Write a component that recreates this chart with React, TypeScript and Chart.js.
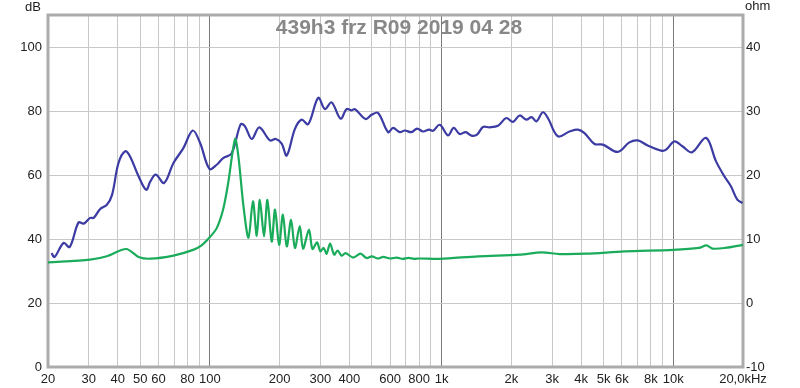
import React, { useEffect, useRef } from 'react';
import { Chart, registerables } from 'chart.js';

Chart.register(...registerables);

// SPL curve (left axis, dB)
const splFreq = [20.7, 21.35, 23.35, 24.8, 27.1, 28.5, 30.4, 31.5, 33.6, 35.9, 37.8, 40.3, 43.1, 45.2, 49.2, 53.1, 55.3, 58.4, 63.4, 69.6, 76.8, 84.3, 90.7, 99.5, 107, 114, 124, 135.8, 141.7, 151.5, 163.4, 181.6, 192.6, 204, 214.5, 232.8, 248.7, 265.7, 293.4, 313.6, 335, 366.5, 389, 408, 422.5, 469.6, 498.7, 532, 587.7, 617.6, 660, 693.8, 741, 783.8, 831.8, 882.7, 918, 982, 1066, 1128, 1197, 1271, 1345, 1422, 1509, 1612, 1752, 1902, 2033, 2172, 2321, 2446, 2564, 2737, 2876, 3176, 3566, 3875, 4139, 4571, 4966, 5762, 6468, 7025, 7760, 8864, 9312, 10115, 10985, 12060, 13850, 15300, 16610, 17760, 18900, 19900];
const splDb = [35.6, 34.4, 38.75, 37.5, 45.2, 44.8, 46.6, 46.6, 49.4, 50.7, 53.8, 63.75, 67.4, 65.8, 59.6, 55.4, 58, 60.1, 57.5, 63.75, 68.4, 73.9, 70, 61.9, 63.2, 65.3, 66.7, 75.9, 75.2, 71.25, 74.9, 70.8, 71.25, 69.8, 66.1, 74.4, 77.3, 75.9, 84.1, 80.6, 82.7, 77.6, 80.6, 80.2, 80.6, 77.5, 78.8, 79.4, 73.4, 74.7, 73.4, 73.9, 73.4, 74.5, 73.6, 74.2, 73.8, 75.7, 72.4, 74.7, 72.8, 73.4, 72.3, 72.6, 75, 74.9, 75.4, 77.8, 76.6, 78.6, 77.3, 78.1, 76.75, 79.6, 77.8, 72.1, 73.6, 74.2, 73.1, 69.7, 69.5, 67.2, 70.2, 70.8, 69.2, 67.6, 67.9, 70.5, 68.9, 67.1, 71.6, 64.25, 59.6, 56.4, 52.3, 51.25];

// Impedance curve (right axis, ohm)
const impFreq = [20, 30.4, 35.9, 43.5, 49.2, 55.3, 69.6, 84.6, 92, 100, 107, 114, 119.9, 128.4, 132.7, 139.6, 146.7, 153.3, 159.3, 164.2, 171.2, 177, 184.8, 191, 198.9, 206.5, 214.6, 224, 232.8, 244.2, 252.4, 267.7, 277, 290, 299.6, 309.7, 318.9, 330, 343.9, 355.7, 370, 385, 415, 446.8, 474, 500, 530, 560, 600, 640, 680, 720, 760, 800, 982, 1440, 2170, 2702, 3230, 4200, 6160, 10000, 12900, 13900, 14750, 16700, 20000];
const impOhm = [6.35, 6.77, 7.3, 8.44, 7.2, 6.92, 7.4, 8.3, 9.0, 10.3, 11.7, 14.6, 18.75, 25.6, 22.9, 15.1, 10.2, 15.9, 10.5, 16.1, 10.4, 16.1, 9.6, 14.6, 9.1, 13.8, 8.85, 13, 8.6, 12, 8.5, 11.45, 8.44, 9.47, 8.06, 8.6, 7.7, 9.27, 7.55, 8.2, 7.4, 7.8, 7.1, 7.7, 7.03, 7.3, 6.95, 7.2, 6.95, 7.1, 6.9, 7.05, 6.9, 6.95, 6.9, 7.3, 7.55, 7.9, 7.65, 7.7, 8.06, 8.3, 8.6, 9, 8.5, 8.6, 9.1];

// X axis labels and gridlines
const xLabelValues = [20, 30, 40, 50, 60, 80, 100, 200, 300, 400, 600, 800, 1000, 2000, 3000, 4000, 5000, 6000, 8000, 10000, 20000];
const xLabelTexts = ['20', '30', '40', '50', '60', '80', '100', '200', '300', '400', '600', '800', '1k', '2k', '3k', '4k', '5k', '6k', '8k', '10k', '20,0kHz'];
const xGridValues = [20, 30, 40, 50, 60, 70, 80, 90, 100, 200, 300, 400, 500, 600, 700, 800, 900, 1000, 2000, 3000, 4000, 5000, 6000, 7000, 8000, 9000, 10000, 20000];
const xDecades = [100, 1000, 10000];

const dbTicks = [0, 20, 40, 60, 80, 100];
const ohmTicks = [-10, 0, 10, 20, 30, 40];

const title = '439h3 frz R09 2019 04 28';

const FONT = '"Liberation Sans", Arial, sans-serif';

export default function App() {
  const ref = useRef<HTMLCanvasElement | null>(null);

  useEffect(() => {
    document.body.style.margin = '0';
    const canvas = ref.current;
    if (!canvas) return;

    const overlay = {
      id: 'overlay',
      beforeDatasetsDraw(chart: any) {
        const { ctx, chartArea } = chart;
        ctx.save();
        ctx.strokeStyle = '#ababab';
        ctx.lineWidth = 3;
        ctx.strokeRect(chartArea.left, chartArea.top, chartArea.right - chartArea.left, chartArea.bottom - chartArea.top);
        ctx.fillStyle = '#888888';
        ctx.font = `bold 21px ${FONT}`;
        ctx.textAlign = 'center';
        ctx.textBaseline = 'alphabetic';
        ctx.fillText(title, 399, 33.5);
        ctx.fillStyle = '#222222';
        ctx.font = `13px ${FONT}`;
        ctx.textAlign = 'right';
        ctx.fillText('dB', 41, 11);
        ctx.textAlign = 'left';
        ctx.fillText('ohm', 745, 10);
        ctx.restore();
      },
    };

    const chart = new Chart(canvas, {
      type: 'line',
      data: {
        datasets: [
          {
            label: 'ohm',
            data: impFreq.map((f, i) => ({ x: f, y: impOhm[i] })),
            yAxisID: 'y1',
            borderColor: '#1aab5b',
            borderWidth: 2.2,
            pointRadius: 0,
            tension: 0.3,
            fill: false,
          },
          {
            label: 'dB',
            data: splFreq.map((f, i) => ({ x: f, y: splDb[i] })),
            yAxisID: 'y',
            borderColor: '#3b3ba3',
            borderWidth: 2.2,
            pointRadius: 0,
            tension: 0.35,
            fill: false,
          },
        ],
      },
      options: {
        animation: false,
        responsive: false,
        parsing: true,
        layout: { padding: { top: 15, left: 0, right: 0, bottom: 0 } },
        plugins: {
          legend: { display: false },
          tooltip: { enabled: false },
          title: { display: false },
        },
        scales: {
          x: {
            type: 'logarithmic',
            min: 20,
            max: 20000,
            afterBuildTicks: (scale: any) => {
              scale.ticks = xGridValues.map((v) => ({ value: v }));
            },
            afterFit: (scale: any) => {
              scale.height = 21;
            },
            ticks: {
              autoSkip: false,
              maxRotation: 0,
              minRotation: 0,
              padding: 5,
              color: '#222222',
              font: { family: FONT, size: 13 },
              callback: (value: any) => {
                const i = xLabelValues.indexOf(Number(value));
                return i >= 0 ? xLabelTexts[i] : '';
              },
            },
            grid: {
              drawTicks: false,
              lineWidth: 1,
              color: (ctx: any) => (ctx.tick && xDecades.includes(ctx.tick.value) ? '#7a7a7a' : '#c8c8c8'),
            },
            border: { display: false },
          },
          y: {
            type: 'linear',
            position: 'left',
            min: 0,
            max: 110,
            afterBuildTicks: (scale: any) => {
              scale.ticks = dbTicks.map((v) => ({ value: v }));
            },
            afterFit: (scale: any) => {
              scale.width = 48;
            },
            ticks: {
              padding: 6,
              color: '#222222',
              font: { family: FONT, size: 13 },
            },
            grid: { drawTicks: false, color: '#c8c8c8', lineWidth: 1 },
            border: { display: false },
          },
          y1: {
            type: 'linear',
            position: 'right',
            min: -10,
            max: 45,
            afterBuildTicks: (scale: any) => {
              scale.ticks = ohmTicks.map((v) => ({ value: v }));
            },
            afterFit: (scale: any) => {
              scale.width = 57;
            },
            ticks: {
              padding: 3,
              color: '#222222',
              font: { family: FONT, size: 13 },
            },
            grid: { display: false, drawTicks: false },
            border: { display: false },
          },
        },
      },
      plugins: [overlay],
    } as any);

    return () => {
      chart.destroy();
    };
  }, []);

  return (
    <div style={{ width: 800, height: 388 }}>
      <canvas ref={ref} width={800} height={388} />
    </div>
  );
}
